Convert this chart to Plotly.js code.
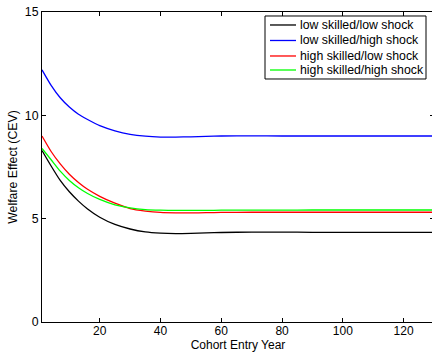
<!DOCTYPE html>
<html>
<head>
<meta charset="utf-8">
<script src="https://cdn.plot.ly/plotly-3.0.1.min.js"></script>
<style>
html, body { margin: 0; padding: 0; overflow: hidden; background: #fff; }
#chart { width: 434px; height: 353px; }
</style>
</head>
<body>
<div id="chart"></div>
<script>
const cohortYears = [1, 4, 7, 10, 13, 16, 20, 25, 30, 35, 40, 45, 50, 55, 60, 70, 80, 90, 100, 110, 120, 130];
const lowSkilledLowShock  = [8.30, 7.55, 6.85, 6.30, 5.85, 5.47, 5.07, 4.72, 4.50, 4.36, 4.30, 4.28, 4.29, 4.31, 4.33, 4.35, 4.35, 4.34, 4.34, 4.34, 4.34, 4.34];
const lowSkilledHighShock = [12.20, 11.45, 10.85, 10.40, 10.05, 9.80, 9.50, 9.25, 9.08, 8.99, 8.95, 8.95, 8.96, 8.98, 9.00, 9.01, 9.00, 9.00, 9.00, 9.00, 9.00, 9.00];
const highSkilledLowShock = [9.00, 8.25, 7.65, 7.15, 6.75, 6.42, 6.08, 5.75, 5.49, 5.37, 5.30, 5.28, 5.28, 5.29, 5.30, 5.31, 5.31, 5.31, 5.31, 5.31, 5.31, 5.31];
const highSkilledHighShock = [8.40, 7.85, 7.30, 6.85, 6.50, 6.22, 5.93, 5.67, 5.52, 5.44, 5.41, 5.40, 5.40, 5.40, 5.41, 5.41, 5.41, 5.42, 5.42, 5.42, 5.42, 5.42];
const seriesNames = ["low skilled/low shock", "low skilled/high shock", "high skilled/low shock", "high skilled/high shock"];
const seriesColors = ["#000000", "#0000ff", "#ff0000", "#00ff00"];
const xTicks = [20, 40, 60, 80, 100, 120];
const yTicks = [0, 5, 10, 15];

const allSeries = [lowSkilledLowShock, lowSkilledHighShock, highSkilledLowShock, highSkilledHighShock];
const traces = allSeries.map((ys, i) => ({
  x: cohortYears, y: ys, type: "scatter", mode: "lines",
  name: seriesNames[i],
  line: { color: seriesColors[i], width: 1.3, shape: "spline", smoothing: 0.6 }
}));

// MATLAB-style legend box (paper coordinates)
const legBox = { x0: 0.5689, x1: 0.9796, y0: 0.7839, y1: 0.9871 };
const legRowY = [0.9581, 0.9081, 0.8581, 0.8129];
const legLineX = [0.5816, 0.6480];
const legTextX = 0.6530;

const shapes = [{
  type: "rect", xref: "paper", yref: "paper",
  x0: legBox.x0, x1: legBox.x1, y0: legBox.y0, y1: legBox.y1,
  line: { color: "#000", width: 1 }, fillcolor: "#fff", layer: "above"
}].concat(seriesColors.map((c, i) => ({
  type: "line", xref: "paper", yref: "paper",
  x0: legLineX[0], x1: legLineX[1], y0: legRowY[i], y1: legRowY[i],
  line: { color: c, width: 1.3 }, layer: "above"
})));

const fontFam = "Liberation Sans, Arial, Helvetica, sans-serif";
const fs = 12.3;
const annotations = seriesNames.map((n, i) => ({
  xref: "paper", yref: "paper", x: legTextX, y: legRowY[i],
  xanchor: "left", yanchor: "middle", text: n, showarrow: false,
  font: { family: fontFam, size: fs, color: "#000" }
}));

const layout = {
  width: 434, height: 353,
  margin: { l: 42, r: 0, t: 12, b: 31 },
  paper_bgcolor: "#fff", plot_bgcolor: "#fff",
  font: { family: fontFam, size: fs, color: "#000" },
  showlegend: false,
  shapes: shapes,
  annotations: annotations,
  xaxis: {
    range: [1, 130], tickvals: xTicks, ticktext: xTicks.map(String),
    ticks: "inside", ticklen: 4, tickcolor: "#000", tickwidth: 1,
    ticklabelstandoff: -2,
    showline: true, linecolor: "#000", linewidth: 1, mirror: "ticks",
    showgrid: false, zeroline: false,
    tickfont: { size: 12 },
    title: { text: "Cohort Entry Year", font: { size: 12 }, standoff: 1 },
    automargin: false
  },
  yaxis: {
    range: [0, 15], tickvals: yTicks, ticktext: yTicks.map(String),
    ticks: "inside", ticklen: 4, tickcolor: "#000", tickwidth: 1,
    showline: true, linecolor: "#000", linewidth: 1, mirror: "ticks",
    showgrid: false, zeroline: false,
    tickfont: { size: fs },
    title: { text: "Welfare Effect (CEV)", font: { size: fs }, standoff: 4 },
    automargin: false
  }
};
Plotly.newPlot("chart", traces, layout, { staticPlot: true, displayModeBar: false });
</script>
</body>
</html>
